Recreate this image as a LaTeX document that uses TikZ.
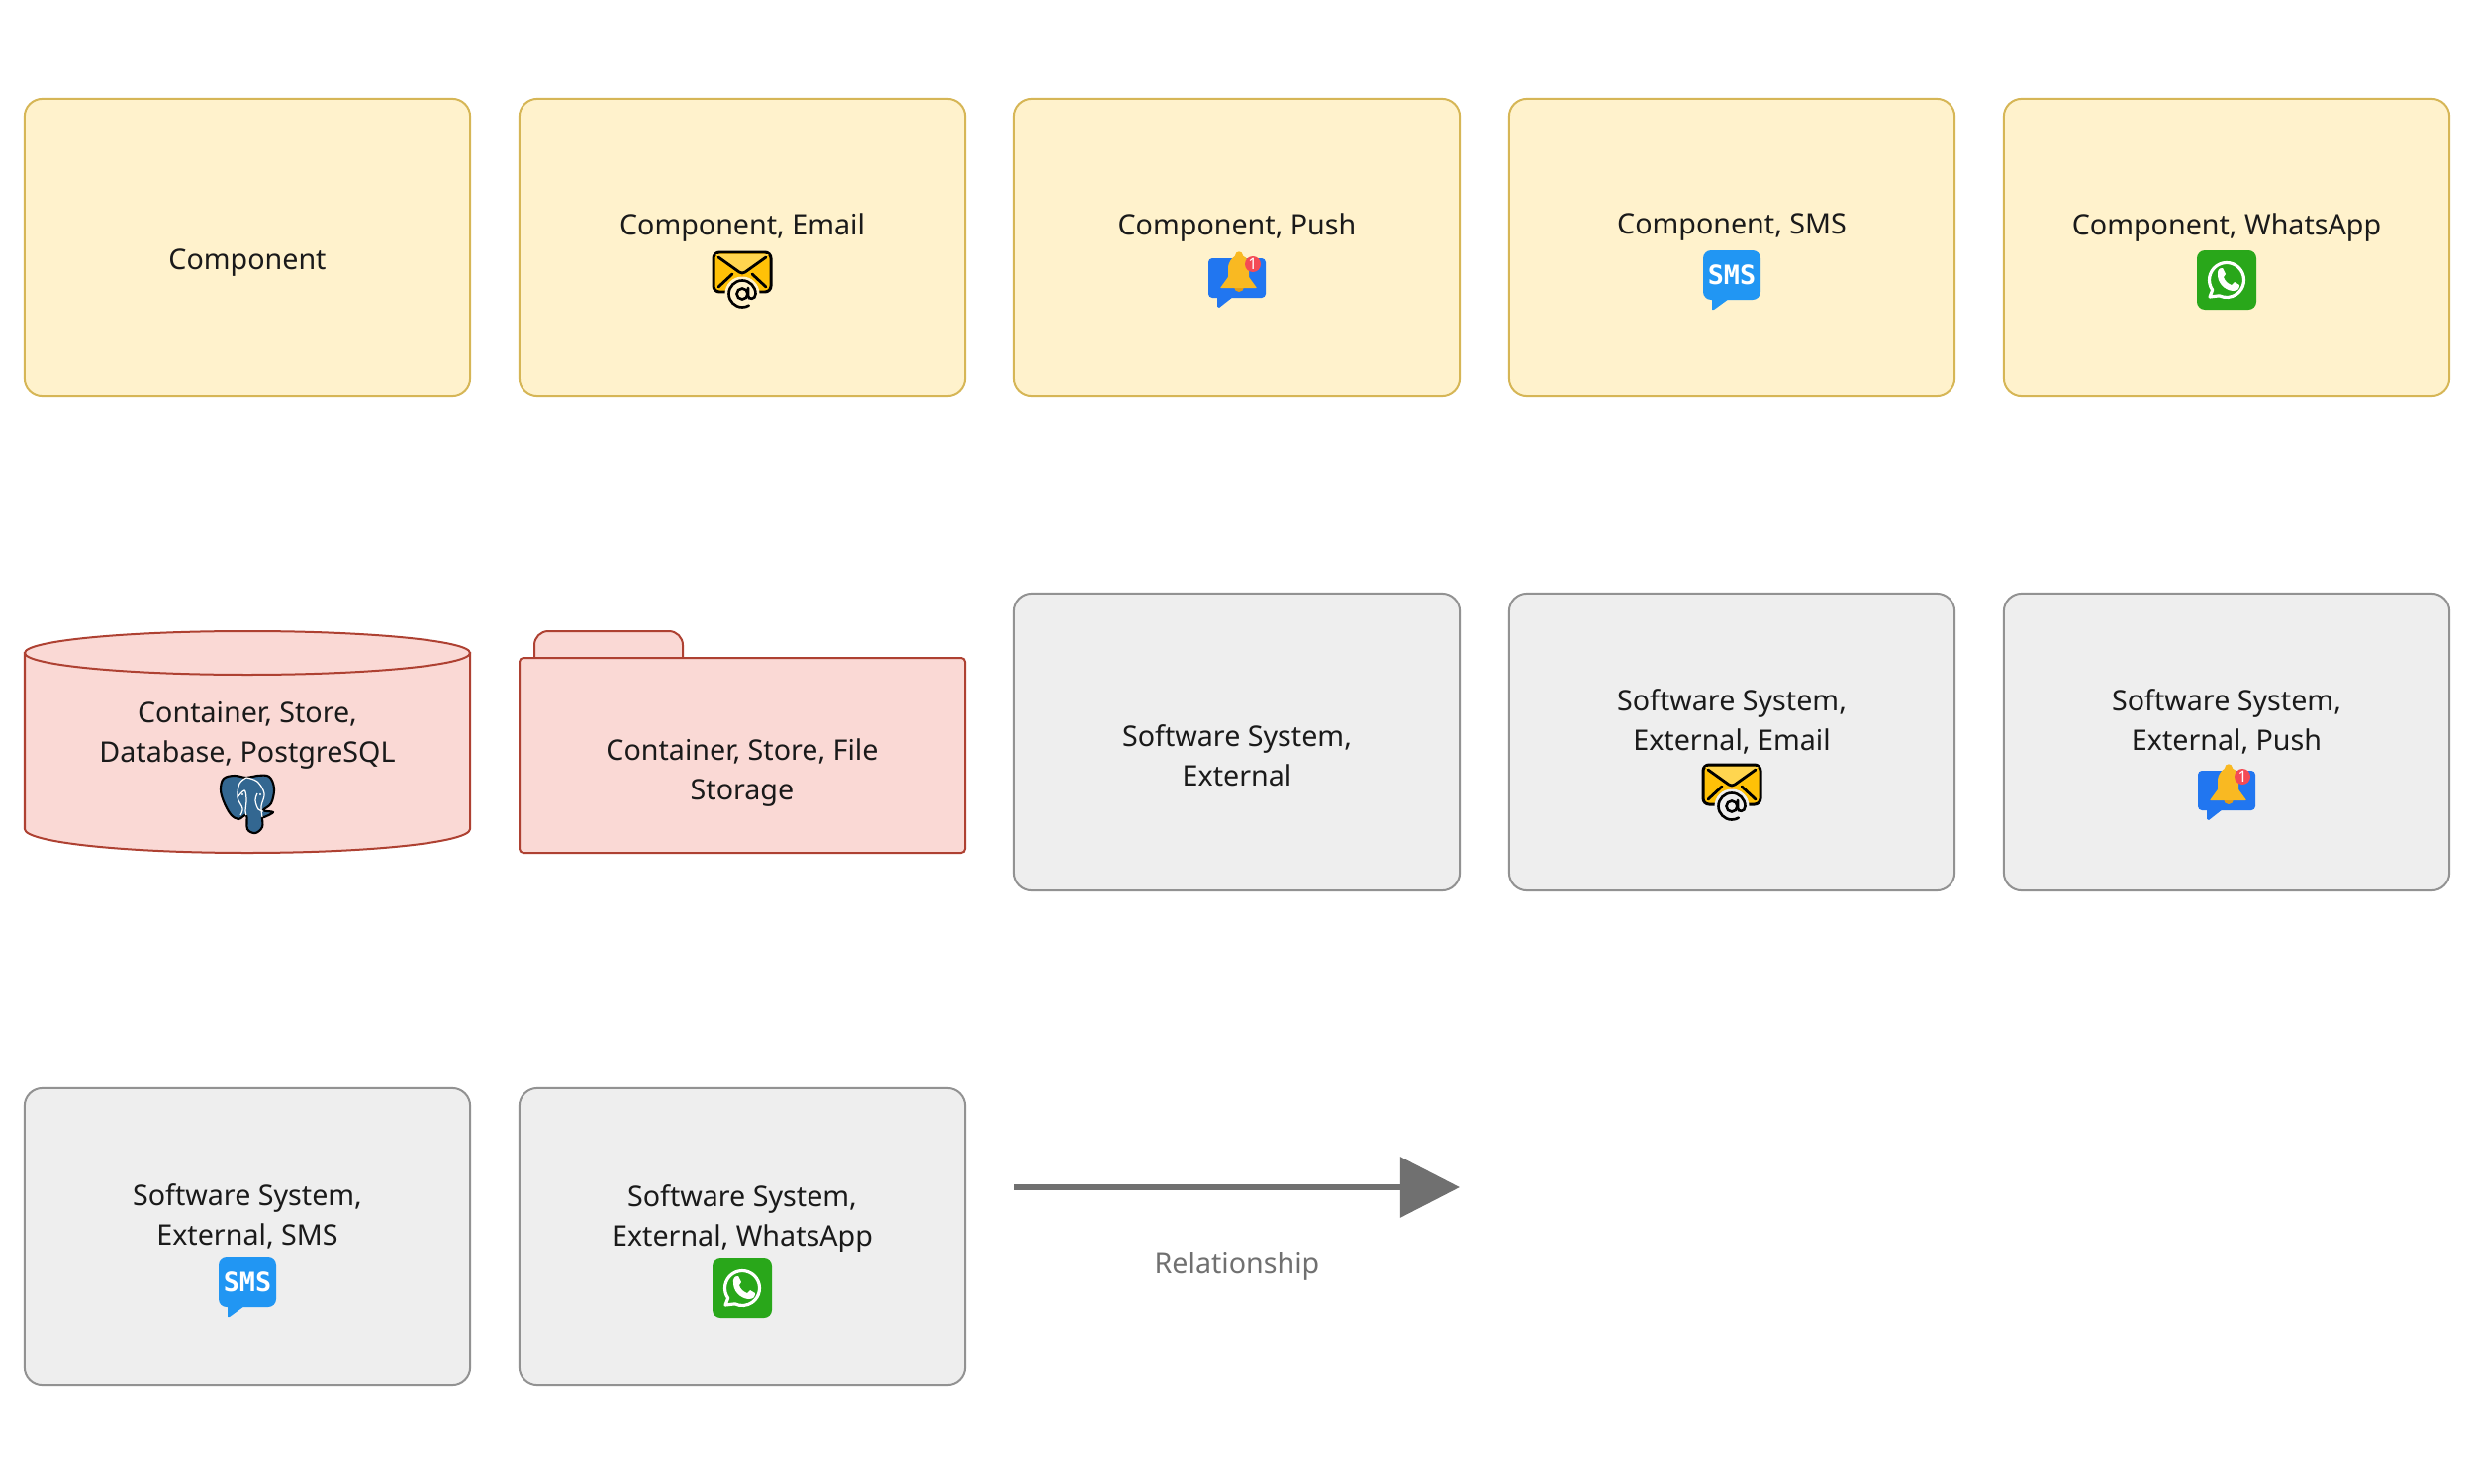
\documentclass[tikz,border=0pt]{standalone}
\usepackage{xcolor}
\usepackage{fontspec}
\setmainfont{Noto Sans}
\newfontfamily\smsfont{DejaVu Sans Mono}
\usetikzlibrary{arrows.meta,positioning,calc}
\definecolor{compfill}{HTML}{FFF2CC}
\definecolor{compline}{HTML}{D6B656}
\definecolor{storefill}{HTML}{FAD9D5}
\definecolor{storeline}{HTML}{AE4132}
\definecolor{sysfill}{HTML}{EEEEEE}
\definecolor{sysline}{HTML}{929292}
\definecolor{relgray}{HTML}{707070}
\definecolor{txtblack}{HTML}{1A1A1A}
\definecolor{pgblue}{HTML}{336791}
\definecolor{mailyellow}{HTML}{FFC107}
\definecolor{maillight}{HTML}{FFD54F}
\definecolor{mailorange}{HTML}{FFA000}
\definecolor{bellblue}{HTML}{2176F0}
\definecolor{bellyellow}{HTML}{F9B922}
\definecolor{belldark}{HTML}{E09A17}
\definecolor{badgered}{HTML}{F44B55}
\definecolor{smsblue}{HTML}{2196F3}
\definecolor{wagreen}{HTML}{29A71A}

\tikzset{
  pics/mailicon/.style={code={
    \draw[line width=0.85pt,rounded corners=0.06cm,fill=mailyellow] (-29,-27) rectangle (29,13);
    \fill[mailorange] (-17,12)--(0,-4)--(17,12)--cycle;
    \fill[maillight] (-27,-25)--(27,-25)--(1,-6)--(-1,-6)--cycle;
    \draw[line width=0.8pt,line cap=round,line join=round] (-24,-22)--(-3,-7)--(0,-6)--(3,-7)--(24,-22);
    \draw[line width=0.8pt,line cap=round] (-24,8)--(-10,-5); \draw[line width=0.8pt,line cap=round] (24,8)--(10,-5);
    \fill[#1] (0,15) circle (17.5);
    \draw[line width=0.75pt] (0,15) circle (5.5);
    \draw[line width=0.75pt,line cap=round] (6,9) -- (6,17) .. controls (6,21) and (13.5,21) .. (13.5,15) arc[start angle=0,end angle=-300,radius=13.5];
  }},
  pics/bellicon/.style={code={
    \fill[bellblue,rounded corners=0.04cm] (-29,-21) rectangle (29,19);
    \fill[bellblue,rounded corners=0.004cm] (-20,18)--(-20,28)--(-18,29)--(-4,18)--cycle;
    \fill[belldark] (2,8) circle (5);
    \fill[bellyellow,rounded corners=0.006cm] (-17,9)--(-9,-2)--(-9,-10) .. controls (-9,-18) and (-4,-22) .. (-2,-23) .. controls (-2,-29) and (6,-29) .. (6,-23) .. controls (10,-22) and (12,-18) .. (12,-10) -- (12,-2) -- (20,9) --cycle;
    \fill[badgered] (16,-15) circle (8);
    \node[text=white,font=\fontsize{4.5}{5}\selectfont\bfseries,inner sep=0pt] (bellone) at (16,-15) {1};
  }},
  pics/smsicon/.style={code={
    \fill[smsblue,rounded corners=0.08cm] (-29,-29) rectangle (29,21);
    \fill[smsblue,rounded corners=0.004cm] (-20,18)--(-20,31)--(-18,31)--(-3,20)--cycle;
    \node[text=white,font=\smsfont\bfseries\fontsize{7.6}{8}\selectfont,inner sep=0pt] (smstxt) at (0,-4) {SMS};
  }},
  pics/waicon/.style={code={
    \fill[wagreen,rounded corners=0.08cm] (-30,-30) rectangle (30,30);
    \draw[white,line width=0.9pt,line join=round] (145:17.5) arc[start angle=145,end angle=475,radius=17.5] -- (-17,17) -- cycle;
    \fill[white,line join=round,rounded corners=0.003cm] (-9,-8) .. controls (-8,-12) and (-6,-12) .. (-4,-12) -- (-1,-6) -- (-3,-3) .. controls (-2,1) and (2,4) .. (5,5) -- (8,2) -- (13,5) .. controls (13,9) and (11,11) .. (6,11) .. controls (-2,10) and (-10,3) .. (-9,-8) -- cycle;
  }},
  pics/pgicon/.style={code={
    \draw[black,line width=0.6pt,fill=pgblue,line join=round] plot[smooth cycle,tension=0.6] coordinates {(-27,-14) (-24,-25) (-13,-28) (-1,-26) (10,-28) (22,-27) (27,-15) (24,0) (16,7) (26,9) (17,14) (15,14) (15,24) (8,30) (0,26) (-1,12) (-9,16) (-17,11) (-24,-2)};
    \draw[white,line width=0.35pt] plot[smooth,tension=0.6] coordinates {(-1,-26) (-8,-20) (-10,-6) (-5,5) (-7,12)};
    \draw[white,line width=0.35pt] plot[smooth,tension=0.6] coordinates {(-1,-26) (10,-22) (17,-10) (14,3) (15,14)};
    \draw[white,line width=0.35pt] plot[smooth,tension=0.6] coordinates {(-10,-6) (-3,-13) (-1,-4) (-2,8) (-1,12)};
    \draw[white,line width=0.35pt] plot[smooth,tension=0.6] coordinates {(10,-10) (8,-3) (11,6) (16,8)};
    \fill[white] (-5,-9) circle (1.2); \fill[white] (13,-9) circle (1.2);
  }}
}

\begin{document}
\begin{tikzpicture}[x=0.01cm,y=-0.01cm,>=latex,
   every node/.style={font=\fontsize{8.15}{11.38}\selectfont,text=txtblack},
   lbl/.style={align=center,inner sep=0pt},
   box/.style={rounded corners=0.18cm,line width=0.02cm,minimum width=4.5cm,minimum height=3cm,inner sep=0pt},
   comp/.style={box,draw=compline,fill=compfill},
   sys/.style={box,draw=sysline,fill=sysfill},
   store/.style={line width=0.02cm,draw=storeline,fill=storefill}]
  \useasboundingbox (0,0) rectangle (2500,1500);
  % top row
  \node[comp] (c1) at (250,250) {};
  \node[comp] (c2) at (750,250) {};
  \node[comp] (c3) at (1250,250) {};
  \node[comp] (c4) at (1750,250) {};
  \node[comp] (c5) at (2250,250) {};
  \node[lbl] (c1t) at (250,266) {Component};
  \node[lbl] (c2t) at (750,230) {Component, Email};
  \node[lbl] (c3t) at (1250,230) {Component, Push};
  \node[lbl] (c4t) at (1750,230) {Component, SMS};
  \node[lbl] (c5t) at (2250,230) {Component, WhatsApp};
  \pic at (750,282) {mailicon=compfill};
  \pic at (1250,282) {bellicon};
  \pic at (1750,282) {smsicon};
  \pic at (2250,283) {waicon};
  % stores
  \draw[store] (25,660) -- (25,838) arc[start angle=180,end angle=0,x radius=225,y radius=24] -- (475,660) -- cycle;
  \draw[store] (250,660) ellipse[x radius=225,y radius=22];
  \node[lbl] (s1t) at (250,743) {Container, Store,\\Database, PostgreSQL};
  \pic at (250,812) {pgicon};
  \draw[store,rounded corners=0.14cm] (540,670) -- (540,638) -- (690,638) -- (690,670);
  \draw[store,rounded corners=0.04cm] (525,665) rectangle (975,862);
  \node[lbl] (s2t) at (750,781) {Container, Store, File\\Storage};
  % external systems
  \node[sys] (e1) at (1250,750) {};
  \node[sys] (e2) at (1750,750) {};
  \node[sys] (e3) at (2250,750) {};
  \node[lbl] (e1t) at (1250,764) {Software System,\\External};
  \node[lbl] (e2t) at (1750,729) {Software System,\\External, Email};
  \node[lbl] (e3t) at (2250,729) {Software System,\\External, Push};
  \pic at (1750,800) {mailicon=sysfill};
  \pic at (2250,800) {bellicon};
  \node[sys] (e4) at (250,1250) {};
  \node[sys] (e5) at (750,1250) {};
  \node[lbl] (e4t) at (250,1229) {Software System,\\External, SMS};
  \node[lbl] (e5t) at (750,1232) {Software System,\\External, WhatsApp};
  \pic at (250,1300) {smsicon};
  \pic at (750,1302) {waicon};
  % relationship
  \coordinate (rs) at (1025,1200);
  \coordinate (re) at (1475,1200);
  \draw[-{Triangle[length=0.6cm,width=0.6cm]},relgray,line width=0.06cm] (rs)--(re);
  \node[lbl,text=relgray] (rt) at (1250,1280) {Relationship};
\end{tikzpicture}
\end{document}
